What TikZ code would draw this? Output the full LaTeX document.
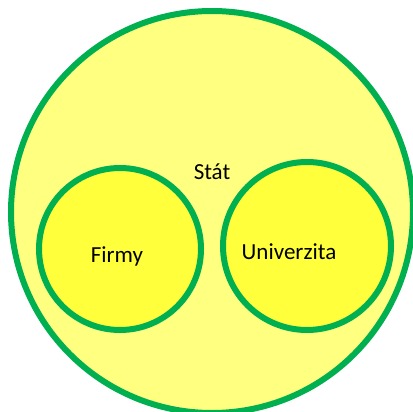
\documentclass[tikz,border=0pt]{standalone}
\usepackage{fontspec}
\setmainfont{Carlito}
\usetikzlibrary{positioning}
\definecolor{ringgreen}{HTML}{00B050}
\definecolor{paleyellow}{HTML}{FFFF80}
\definecolor{brightyellow}{HTML}{FFFF3C}

\begin{document}
\begin{tikzpicture}[x=1pt, y=-1pt,
    ring/.style={circle, draw=ringgreen, line width=6pt, inner sep=0pt},
    label/.style={anchor=base, font=\fontsize{23}{27}\selectfont, inner sep=0pt}
]
    \useasboundingbox (0,0) rectangle (412,412);
    \node[ring, fill=paleyellow, minimum size=402pt] (stat) at (212,212) {};
    \node[ring, fill=brightyellow, minimum size=162pt] (firmy) at (120,249) {};
    \node[ring, fill=brightyellow, minimum size=168pt] (univ) at (307,246) {};

    \node[label] (statlbl) at (212,179) {Stát};
    \node[label] (firmylbl) at (117,262) {Firmy};
    \node[label] (univlbl) at (289,259) {Univerzita};
\end{tikzpicture}
\end{document}
